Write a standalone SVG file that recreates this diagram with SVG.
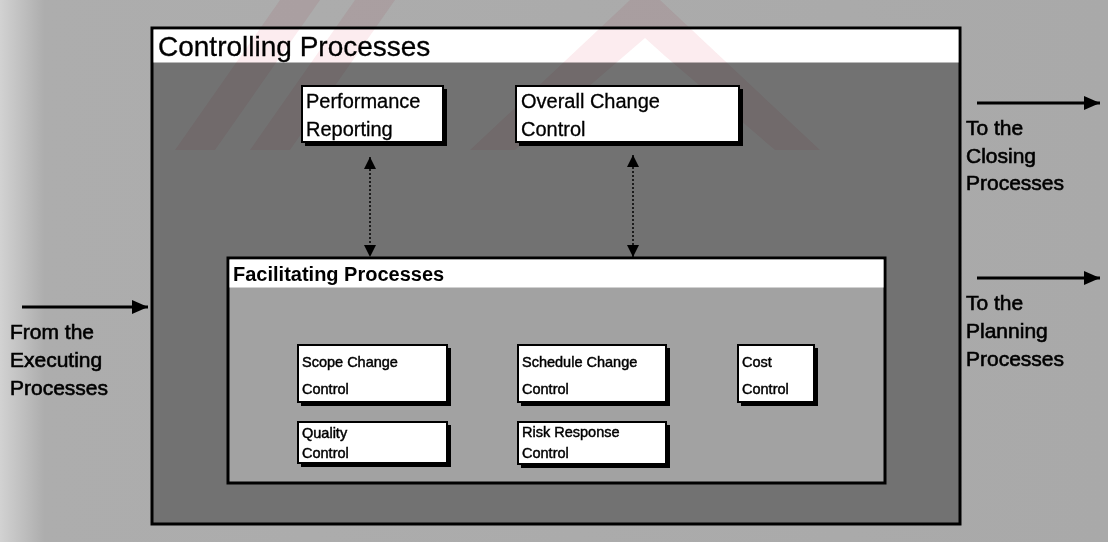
<svg xmlns="http://www.w3.org/2000/svg" width="1108" height="542" viewBox="0 0 1108 542">
  <style>
    .lbl { font-family: "Liberation Sans", Arial, sans-serif; fill: #000; }
    .title { font-size: 28px; stroke: #000; stroke-width: 0.3; }
    .sub { font-size: 20px; font-weight: bold; }
    .big { font-size: 20px; stroke: #000; stroke-width: 0.3; }
    .side { font-size: 21px; stroke: #000; stroke-width: 0.6; }
    .small { font-size: 14.5px; stroke: #000; stroke-width: 0.45; }
    .card { fill: #fff; stroke: #000; stroke-width: 2; }
    .shade { fill: #000; }
    .flow { stroke: #000; stroke-width: 3; fill: none; }
    .link { stroke: #000; stroke-width: 1.5; stroke-dasharray: 2 2; fill: none; }
  </style>
  <defs>
    <linearGradient id="paper" x1="0" y1="0" x2="1" y2="0">
      <stop offset="0" stop-color="#d2d2d2"/>
      <stop offset="0.04" stop-color="#adadad"/>
      <stop offset="1" stop-color="#a9a9a9"/>
    </linearGradient>
    <marker id="headBig" viewBox="0 0 16 14" refX="16" refY="7" markerWidth="16" markerHeight="14" markerUnits="userSpaceOnUse" orient="auto">
      <path d="M0,0 L16,7 L0,14 Z" fill="#000"/>
    </marker>
    <marker id="headSmall" viewBox="0 0 12 12" refX="12" refY="6" markerWidth="12" markerHeight="12" markerUnits="userSpaceOnUse" orient="auto-start-reverse">
      <path d="M0,0 L12,6 L0,12 Z" fill="#000"/>
    </marker>
  </defs>

  <!-- background -->
  <rect x="0" y="0" width="1108" height="542" fill="url(#paper)"/>

  <!-- Controlling Processes frame -->
  <g id="controlling">
    <rect x="152" y="28" width="808" height="496" fill="#727272" stroke="#000" stroke-width="3"/>
    <rect x="153.5" y="29.5" width="805" height="33" fill="#fff"/>
    <text class="lbl title" x="158" y="56">Controlling Processes</text>
  </g>

  <!-- faint watermark -->
  <g id="watermark" fill="#f3c0c8" opacity="0.3" style="mix-blend-mode:multiply">
    <polygon points="175,150 215,150 320,0 280,0"/>
    <polygon points="250,150 290,150 395,0 355,0"/>
    <polygon points="470,150 515,150 645,38 665,56 775,150 820,150 660,0 630,0"/>
  </g>

  <!-- Facilitating Processes frame -->
  <g id="facilitating">
    <rect x="228" y="258" width="657" height="225" fill="#a2a2a2" stroke="#000" stroke-width="3"/>
    <rect x="229.5" y="259.5" width="654" height="28" fill="#fff"/>
    <text class="lbl sub" x="233" y="281">Facilitating Processes</text>
  </g>

  <!-- Controlling process boxes -->
  <g id="performance-reporting">
    <rect class="shade" x="305" y="89" width="142" height="57"/>
    <rect class="card" x="302" y="86" width="141" height="56"/>
    <text class="lbl big" x="306" y="108">Performance</text>
    <text class="lbl big" x="306" y="136">Reporting</text>
  </g>
  <g id="overall-change-control">
    <rect class="shade" x="519" y="89" width="224" height="57"/>
    <rect class="card" x="516" y="86" width="223" height="56"/>
    <text class="lbl big" x="521" y="108">Overall Change</text>
    <text class="lbl big" x="521" y="136">Control</text>
  </g>

  <!-- Facilitating process boxes -->
  <g id="scope-change-control">
    <rect class="shade" x="301" y="348" width="150" height="58"/>
    <rect class="card" x="298" y="345" width="149" height="57"/>
    <text class="lbl small" x="302" y="367">Scope Change</text>
    <text class="lbl small" x="302" y="394">Control</text>
  </g>
  <g id="schedule-change-control">
    <rect class="shade" x="521" y="348" width="149" height="58"/>
    <rect class="card" x="518" y="345" width="148" height="57"/>
    <text class="lbl small" x="522" y="367">Schedule Change</text>
    <text class="lbl small" x="522" y="394">Control</text>
  </g>
  <g id="cost-control">
    <rect class="shade" x="741" y="348" width="77" height="58"/>
    <rect class="card" x="738" y="345" width="76" height="57"/>
    <text class="lbl small" x="742" y="367">Cost</text>
    <text class="lbl small" x="742" y="394">Control</text>
  </g>
  <g id="quality-control">
    <rect class="shade" x="301" y="425" width="150" height="42"/>
    <rect class="card" x="298" y="422" width="149" height="41"/>
    <text class="lbl small" x="302" y="438">Quality</text>
    <text class="lbl small" x="302" y="458">Control</text>
  </g>
  <g id="risk-response-control">
    <rect class="shade" x="521" y="425" width="149" height="43"/>
    <rect class="card" x="518" y="422" width="148" height="42"/>
    <text class="lbl small" x="522" y="437">Risk Response</text>
    <text class="lbl small" x="522" y="458">Control</text>
  </g>

  <!-- connectors -->
  <g id="connectors">
    <line class="link" x1="370" y1="157" x2="370" y2="257" marker-start="url(#headSmall)" marker-end="url(#headSmall)"/>
    <line class="link" x1="633" y1="155" x2="633" y2="257" marker-start="url(#headSmall)" marker-end="url(#headSmall)"/>
    <line class="flow" x1="22" y1="307" x2="148" y2="307" marker-end="url(#headBig)"/>
    <line class="flow" x1="977" y1="103" x2="1100" y2="103" marker-end="url(#headBig)"/>
    <line class="flow" x1="977" y1="278" x2="1100" y2="278" marker-end="url(#headBig)"/>
  </g>

  <!-- side labels -->
  <g id="from-executing">
    <text class="lbl side" x="10" y="339">From the</text>
    <text class="lbl side" x="10" y="367">Executing</text>
    <text class="lbl side" x="10" y="395">Processes</text>
  </g>
  <g id="to-closing">
    <text class="lbl side" x="966" y="135">To the</text>
    <text class="lbl side" x="966" y="163">Closing</text>
    <text class="lbl side" x="966" y="190">Processes</text>
  </g>
  <g id="to-planning">
    <text class="lbl side" x="966" y="310">To the</text>
    <text class="lbl side" x="966" y="338">Planning</text>
    <text class="lbl side" x="966" y="366">Processes</text>
  </g>
</svg>
